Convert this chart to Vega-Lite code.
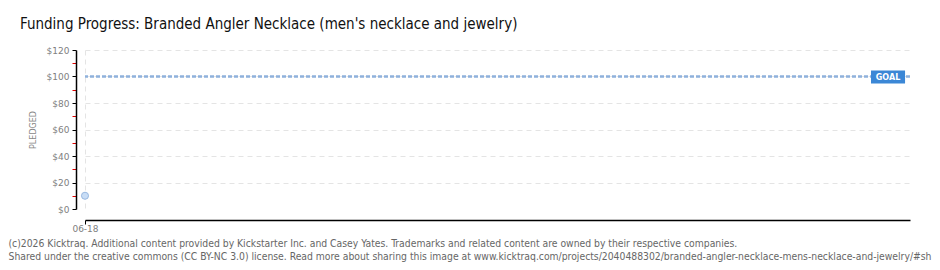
{
  "$schema": "https://vega.github.io/schema/vega-lite/v6.json",
  "width": 825,
  "height": 159,
  "autosize": "none",
  "padding": {"left": 85, "top": 50, "right": 30, "bottom": 61},
  "background": "white",
  "config": {"view": {"stroke": null}, "font": "DejaVu Sans"},
  "title": {
    "text": "Funding Progress: Branded Angler Necklace (men's necklace and jewelry)",
    "anchor": "start",
    "frame": "group",
    "dx": -65,
    "offset": 14,
    "font": "DejaVu Sans Condensed",
    "fontSize": 15,
    "fontWeight": "normal",
    "color": "#111111"
  },
  "encoding": {
    "y": {
      "field": "amount",
      "type": "quantitative",
      "scale": {"domain": [0, 120], "nice": false},
      "axis": {
        "title": "PLEDGED",
        "values": [0, 10, 20, 30, 40, 50, 60, 70, 80, 90, 100, 110, 120],
        "labelExpr": "datum.value % 20 === 0 ? '$' + datum.value : ''",
        "labelOverlap": false,
        "offset": 9,
        "domainColor": "black",
        "domainWidth": 1.5,
        "ticks": true,
        "tickColor": {"condition": {"test": "datum.value % 20 !== 0", "value": "#e00000"}, "value": "black"},
        "tickSize": 4,
        "tickWidth": 1,
        "grid": true,
        "gridDash": [5, 4],
        "gridColor": "#e4e4e4",
        "gridOpacity": {"condition": {"test": "datum.value % 20 !== 0 || datum.value === 0", "value": 0}, "value": 1},
        "labelColor": "#808080",
        "labelFontSize": 9,
        "labelPadding": 3,
        "titleColor": "#888888",
        "titleFontSize": 8,
        "titleFontWeight": "normal",
        "titlePadding": 9
      }
    }
  },
  "layer": [
    {
      "data": {"values": [{"amount": 100}]},
      "mark": {"type": "rule", "color": "#8fb1dc", "strokeWidth": 2.5, "strokeDash": [4, 2]},
      "encoding": {}
    },
    {
      "data": {"values": [{"date": "2015-06-18T00:00", "amount": 10}]},
      "mark": {"type": "point", "filled": true, "fill": "#c8ddf6", "stroke": "#98b8e0", "strokeWidth": 1, "size": 50, "opacity": 1},
      "encoding": {
        "x": {
          "field": "date",
          "type": "temporal",
          "scale": {"domain": ["2015-06-18T00:00", "2015-07-18T00:00"]},
          "axis": {
            "title": [
              "(c)2026 Kicktraq. Additional content provided by Kickstarter Inc. and Casey Yates. Trademarks and related content are owned by their respective companies.",
              "Shared under the creative commons (CC BY-NC 3.0) license. Read more about sharing this image at www.kicktraq.com/projects/2040488302/branded-angler-necklace-mens-necklace-and-jewelry/#sh"
            ],
            "values": [{"year": 2015, "month": 6, "date": 18}],
            "format": "%m-%d",
            "offset": 11,
            "domainColor": "black",
            "domainWidth": 1.5,
            "ticks": true,
            "tickColor": "black",
            "tickSize": 4,
            "tickWidth": 1,
            "grid": true,
            "gridDash": [5, 4],
            "gridColor": "#e4e4e4",
            "labelColor": "#808080",
            "labelFontSize": 9,
            "labelPadding": 0,
            "labelFlush": false,
            "titleAnchor": "start",
            "titleAlign": "left",
            "titleX": -77,
            "titleY": 18,
            "titleBaseline": "top",
            "titleFont": "DejaVu Sans Condensed",
            "titleFontSize": 10.3,
            "titleColor": "#666666",
            "titleFontWeight": "normal",
            "titleLineHeight": 13
          }
        }
      }
    },
    {
      "data": {"values": [{"date": "2015-07-18T00:00", "amount": 100, "label": "GOAL"}]},
      "mark": {"type": "point", "shape": "M-3,-0.46H-0.38V0.54H-3Z", "size": 676, "filled": true, "fill": "#3b87d6", "opacity": 1, "strokeWidth": 0},
      "encoding": {
        "x": {"field": "date", "type": "temporal"}
      }
    },
    {
      "data": {"values": [{"date": "2015-07-18T00:00", "amount": 100, "label": "GOAL"}]},
      "mark": {"type": "text", "color": "white", "fontSize": 8, "fontWeight": "bold", "dx": -22, "dy": 1, "align": "center", "baseline": "middle"},
      "encoding": {
        "x": {"field": "date", "type": "temporal"},
        "text": {"field": "label"}
      }
    }
  ]
}
